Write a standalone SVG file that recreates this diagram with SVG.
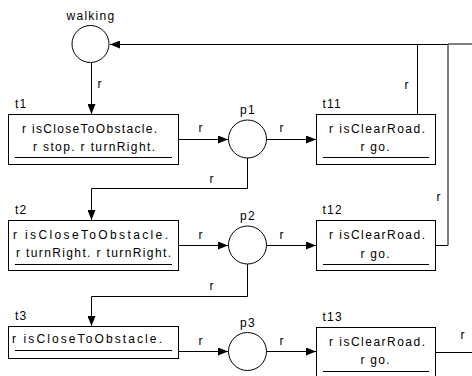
<svg xmlns="http://www.w3.org/2000/svg" width="472" height="376" viewBox="0 0 472 376">
<style>
  text { font-family: "Liberation Sans", Arial, sans-serif; font-size: 12px; fill: #000; }
  .place { fill: #fff; stroke: #000; stroke-width: 1; }
  .trans { fill: #fff; stroke: #000; stroke-width: 1; }
  .rule { fill: none; stroke: #000; stroke-width: 1; }
  .arc { fill: none; stroke: #000; stroke-width: 1; }
  .arrow { marker-end: url(#head); }
  .mid { text-anchor: middle; }
  .sp { letter-spacing: 1.25px; }
</style>
<defs>
  <marker id="head" viewBox="0 0 10 8" refX="10" refY="4" markerWidth="10" markerHeight="8" markerUnits="userSpaceOnUse" orient="auto">
    <path d="M0,0 L10,4 L0,8 Z" fill="#000"/>
  </marker>
</defs>

<!-- arcs between places and transitions -->
<g id="connectors">
  <path class="arc arrow" d="M91.5,63 V114"/>
  <path class="arc arrow" d="M178,139.5 H228"/>
  <path class="arc arrow" d="M266,139.5 H316"/>
  <path class="arc arrow" d="M417.5,114 V44.5 H110"/>
  <path class="arc arrow" d="M247.5,158 V188.5 H91.5 V220"/>
  <path class="arc arrow" d="M178,245.5 H228"/>
  <path class="arc arrow" d="M266,245.5 H316"/>
  <path class="arc" d="M435,245.5 H448 V44.5 H417"/>
  <path class="arc arrow" d="M247.5,264 V296.5 H91.5 V326"/>
  <path class="arc arrow" d="M178,351.5 H228"/>
  <path class="arc arrow" d="M266,351.5 H316"/>
  <path class="arc" d="M435,352.5 H480 V44 H448"/>

  <text class="mid sp" x="100" y="88">r</text>
  <text class="mid sp" x="201" y="132">r</text>
  <text class="mid sp" x="282" y="132">r</text>
  <text class="mid sp" x="407" y="89">r</text>
  <text class="mid sp" x="212" y="182.5">r</text>
  <text class="mid sp" x="201" y="239">r</text>
  <text class="mid sp" x="282" y="239">r</text>
  <text class="mid sp" x="439" y="201">r</text>
  <text class="mid sp" x="212" y="290">r</text>
  <text class="mid sp" x="201" y="345">r</text>
  <text class="mid sp" x="282" y="345">r</text>
  <text class="mid sp" x="463" y="339">r</text>
</g>

<!-- places -->
<g id="walking">
  <circle class="place" cx="90.5" cy="44" r="18.5"/>
  <text class="mid sp" x="91" y="19.5">walking</text>
</g>
<g id="p1">
  <circle class="place" cx="247.5" cy="139" r="19"/>
  <text class="mid sp" x="248" y="114">p1</text>
</g>
<g id="p2">
  <circle class="place" cx="247.5" cy="245" r="19"/>
  <text class="mid sp" x="248" y="220">p2</text>
</g>
<g id="p3">
  <circle class="place" cx="247.5" cy="351.5" r="19"/>
  <text class="mid sp" x="248" y="326.5">p3</text>
</g>

<!-- transitions -->
<g id="t1">
  <rect class="trans" x="8.5" y="114.5" width="170" height="50"/>
  <path class="rule" d="M15,157.5 H172"/>
  <text class="sp" x="15" y="108">t1</text>
  <text x="22" y="133" textLength="135" lengthAdjust="spacing">r isCloseToObstacle.</text>
  <text x="33" y="151" textLength="122" lengthAdjust="spacing">r stop. r turnRight.</text>
</g>
<g id="t11">
  <rect class="trans" x="316.5" y="114.5" width="119" height="50"/>
  <path class="rule" d="M323,157.5 H429"/>
  <text class="sp" x="322.5" y="108">t11</text>
  <text x="329" y="133" textLength="96" lengthAdjust="spacing">r isClearRoad.</text>
  <text x="360.5" y="151" textLength="29" lengthAdjust="spacing">r go.</text>
</g>
<g id="t2">
  <rect class="trans" x="8.5" y="220.5" width="170" height="50"/>
  <path class="rule" d="M15,264.5 H172"/>
  <text class="sp" x="15" y="213.5">t2</text>
  <text x="13" y="239" textLength="155" lengthAdjust="spacing">r isCloseToObstacle.</text>
  <text x="16" y="257" textLength="155" lengthAdjust="spacing">r turnRight. r turnRight.</text>
</g>
<g id="t12">
  <rect class="trans" x="316.5" y="220.5" width="119" height="50"/>
  <path class="rule" d="M323,264.5 H429"/>
  <text class="sp" x="322.5" y="213.5">t12</text>
  <text x="329" y="239" textLength="96" lengthAdjust="spacing">r isClearRoad.</text>
  <text x="360.5" y="257.5" textLength="29" lengthAdjust="spacing">r go.</text>
</g>
<g id="t3">
  <rect class="trans" x="8.5" y="326.5" width="170" height="32"/>
  <path class="rule" d="M15,350.5 H172"/>
  <text class="sp" x="15" y="320">t3</text>
  <text x="12" y="343" textLength="150" lengthAdjust="spacing">r isCloseToObstacle.</text>
</g>
<g id="t13">
  <rect class="trans" x="316.5" y="327.5" width="119" height="50"/>
  <path class="rule" d="M323,371.5 H429"/>
  <text class="sp" x="322.5" y="321">t13</text>
  <text x="329" y="346" textLength="96" lengthAdjust="spacing">r isClearRoad.</text>
  <text x="360.5" y="364" textLength="29" lengthAdjust="spacing">r go.</text>
</g>
</svg>
